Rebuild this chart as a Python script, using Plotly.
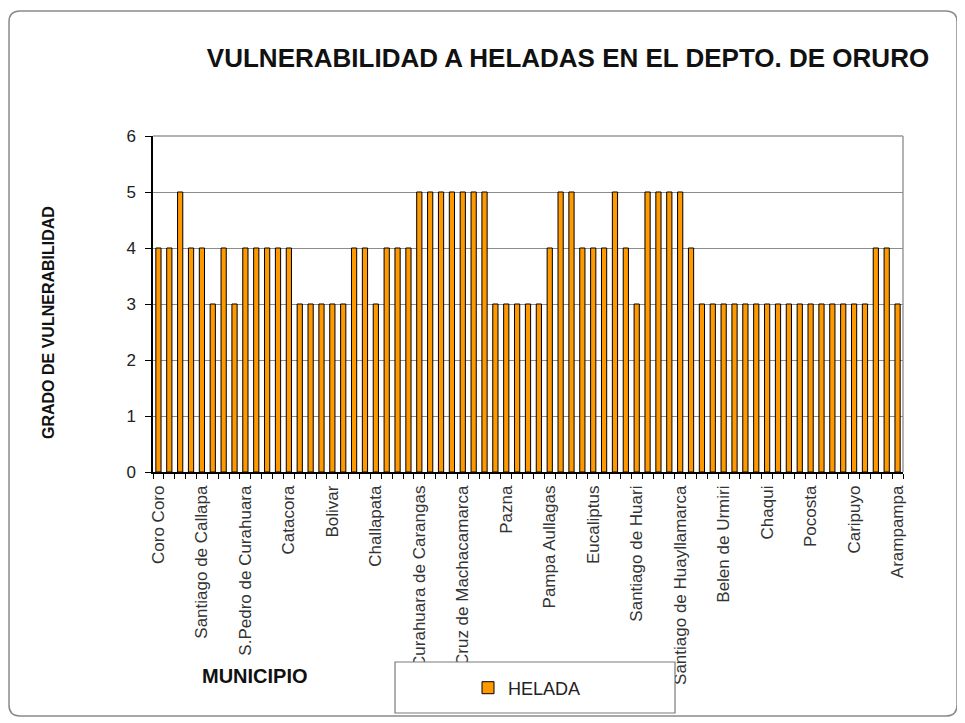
import plotly.graph_objects as go

# ---- data ----
tick_labels = [
    "Coro Coro", "Santiago de Callapa", "S.Pedro de Curahuara", "Catacora",
    "Bolivar", "Challapata", "Curahuara de Carangas", "Cruz de Machacamarca",
    "Pazna", "Pampa Aullagas", "Eucaliptus", "Santiago de Huari",
    "Santiago de Huayllamarca", "Belen de Urmiri", "Chaqui", "Pocosta",
    "Caripuyo", "Arampampa",
]
helada = [
    4, 4, 5, 4, 4, 3, 4, 3, 4, 4, 4, 4,
    4, 3, 3, 3, 3, 3, 4, 4, 3, 4, 4, 4,
    5, 5, 5, 5, 5, 5, 5, 3, 3, 3, 3, 3,
    4, 5, 5, 4, 4, 4, 5, 4, 3, 5, 5, 5,
    5, 4, 3, 3, 3, 3, 3, 3, 3, 3, 3, 3,
    3, 3, 3, 3, 3, 3, 4, 4, 3,
]
positions = list(range(len(helada)))
label_positions = positions[::4]
y_ticks = [0, 1, 2, 3, 4, 5, 6]

# ---- geometry (page has an 8px body margin) ----
OFF = 8
W, H = 965 - OFF, 723 - OFF
L, R, T, B = 153 - OFF, 62, 136 - OFF, 251
PW, PH = W - L - R, H - T - B


def px(x):  # reference-screenshot x -> paper
    return (x - OFF - L) / PW


def py(y):  # reference-screenshot y -> paper
    return (H - B - (y - OFF)) / PH


FONT = "Liberation Sans, Arial, sans-serif"

fig = go.Figure()
fig.add_trace(go.Bar(
    x=positions, y=helada, name="HELADA",
    marker=dict(color="#FF9900", line=dict(color="#000000", width=1)),
))

# rounded outer frame
x0, y0, x1, y1, r = 9, 11, 957, 716, 11
rx, ry = r / PW, r / PH
path = (
    f"M {px(x0)+rx},{py(y0)} L {px(x1)-rx},{py(y0)} "
    f"Q {px(x1)},{py(y0)} {px(x1)},{py(y0)-ry} "
    f"L {px(x1)},{py(y1)+ry} "
    f"Q {px(x1)},{py(y1)} {px(x1)-rx},{py(y1)} "
    f"L {px(x0)+rx},{py(y1)} "
    f"Q {px(x0)},{py(y1)} {px(x0)},{py(y1)+ry} "
    f"L {px(x0)},{py(y0)-ry} "
    f"Q {px(x0)},{py(y0)} {px(x0)+rx},{py(y0)} Z"
)

shapes = [
    dict(type="path", xref="paper", yref="paper", path=path,
         line=dict(color="#8a8a8a", width=1.5), layer="below"),
    # legend box (white, drawn over the long tick labels)
    dict(type="rect", xref="paper", yref="paper",
         x0=px(395), x1=px(675), y0=py(713), y1=py(662),
         fillcolor="white", line=dict(color="#7a7a7a", width=1.2),
         layer="above"),
    # plot area border top/right (gray)
    dict(type="line", xref="paper", yref="paper", x0=0, x1=1, y0=1, y1=1,
         line=dict(color="#9a9a9a", width=1.5), layer="below"),
    dict(type="line", xref="paper", yref="paper", x0=1, x1=1, y0=0, y1=1,
         line=dict(color="#9a9a9a", width=1.5), layer="below"),
]

annotations = [
    dict(text="<b>GRADO DE VULNERABILIDAD</b>", xref="paper", yref="paper",
         x=px(48), y=py(322), xanchor="center", yanchor="middle",
         textangle=-90, showarrow=False,
         font=dict(family=FONT, size=16, color="#111111")),
    dict(text="<b>MUNICIPIO</b>", xref="paper", yref="paper",
         x=px(255), y=py(676), xanchor="center", yanchor="middle",
         showarrow=False,
         font=dict(family=FONT, size=20, color="#111111")),
]

fig.update_layout(
    width=W, height=H,
    margin=dict(l=L, r=R, t=T, b=B, pad=0),
    paper_bgcolor="white", plot_bgcolor="white",
    title=dict(text="<b>VULNERABILIDAD A HELADAS EN EL DEPTO. DE ORURO</b>",
               x=(568 - OFF) / W, xanchor="center",
               y=1 - (58 - OFF) / H, yanchor="middle", yref="container",
               font=dict(family=FONT, size=26, color="#111111")),
    bargap=0.52,
    showlegend=True,
    legend=dict(x=px(468), y=py(688), xanchor="left", yanchor="middle",
                bgcolor="rgba(0,0,0,0)", borderwidth=0,
                font=dict(family=FONT, size=18, color="#222222"),
                itemwidth=30),
    shapes=shapes,
    annotations=annotations,
)

fig.update_xaxes(
    range=[-0.5, len(helada) - 0.5],
    tickmode="array", tickvals=label_positions, ticktext=tick_labels,
    tickangle=-90, ticks="",
    minor=dict(ticks="outside", dtick=1, tick0=0.5, ticklen=5,
               tickcolor="#000000", tickwidth=1, showgrid=False),
    showline=True, linecolor="#000000", linewidth=1.5,
    showgrid=False, zeroline=False,
    tickfont=dict(family=FONT, size=17, color="#333333"),
    ticklabelstandoff=5,
)
fig.update_yaxes(
    range=[0, 6], tickvals=y_ticks,
    ticks="outside", ticklen=6, tickcolor="#000000",
    showline=True, linecolor="#000000", linewidth=1.5,
    showgrid=True, gridcolor="#8c8c8c", gridwidth=1,
    zeroline=False,
    tickfont=dict(family=FONT, size=17, color="#222222"),
    ticklabelstandoff=6,
)

fig.write_html("out.html")
